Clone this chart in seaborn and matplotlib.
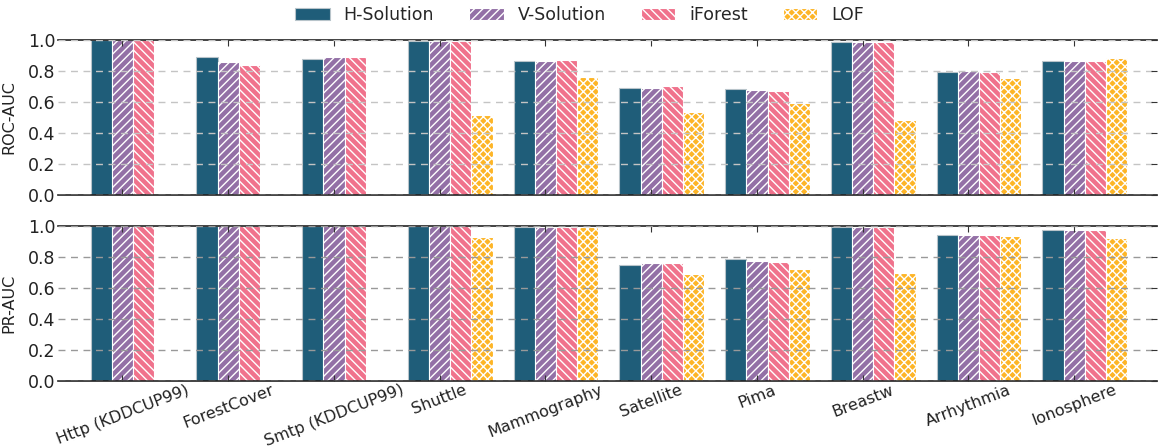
import numpy as np
import pandas as pd
import matplotlib
matplotlib.use("Agg")
import matplotlib.pyplot as plt
import seaborn as sns
from matplotlib.patches import Patch

# data
datasets = ['Http (KDDCUP99)', 'ForestCover', 'Smtp (KDDCUP99)', 'Shuttle', 'Mammography',
            'Satellite', 'Pima', 'Breastw', 'Arrhythmia', 'Ionosphere']
methods = ['H-Solution', 'V-Solution', 'iForest', 'LOF']

roc_h = [1.0, 0.890, 0.880, 0.991, 0.867, 0.692, 0.684, 0.987, 0.791, 0.862]
roc_v = [1.0, 0.860, 0.888, 0.991, 0.867, 0.692, 0.680, 0.987, 0.798, 0.867]
roc_if = [1.0, 0.839, 0.892, 0.991, 0.869, 0.705, 0.671, 0.987, 0.791, 0.867]
roc_lof = [np.nan, np.nan, np.nan, 0.518, 0.763, 0.538, 0.594, 0.486, 0.755, 0.886]

pr_h = [1.0, 1.0, 1.0, 1.0, 0.991, 0.749, 0.790, 0.991, 0.944, 0.974]
pr_v = [1.0, 1.0, 1.0, 1.0, 0.991, 0.758, 0.777, 0.991, 0.944, 0.974]
pr_if = [1.0, 1.0, 1.0, 1.0, 0.991, 0.764, 0.766, 0.991, 0.942, 0.974]
pr_lof = [np.nan, np.nan, np.nan, 0.931, 0.991, 0.691, 0.723, 0.695, 0.938, 0.925]

colors = ['#1f5d79', '#9370a6', '#f0728c', '#fdb527']
hatches = ['', '////', '\\\\\\\\', 'xxxx']


def to_long(series):
    rows = []
    for m, vals in zip(methods, series):
        for d, v in zip(datasets, vals):
            rows.append({'dataset': d, 'method': m, 'score': v})
    return pd.DataFrame(rows)


roc_df = to_long([roc_h, roc_v, roc_if, roc_lof])
pr_df = to_long([pr_h, pr_v, pr_if, pr_lof])

sns.set_style("white")
plt.rcParams['font.family'] = ['DejaVu Sans']
plt.rcParams['hatch.linewidth'] = 1.0

fig, axes = plt.subplots(2, 1, figsize=(11.59, 4.47), dpi=100, sharex=True)
fig.subplots_adjust(left=0.05, right=0.998, top=0.9105, bottom=0.1477, hspace=0.2)

panels = [(axes[0], roc_df, 'ROC-AUC', '#c4c4c4'), (axes[1], pr_df, 'PR-AUC', '#999999')]
for ax, df, label, gcol in panels:
    sns.barplot(data=df, x='dataset', y='score', hue='method', order=datasets,
                hue_order=methods, palette=colors, saturation=1, width=0.8, ax=ax, legend=False)
    for i, cont in enumerate(ax.containers):
        for bar in cont:
            bar.set_hatch(hatches[i])
            bar.set_edgecolor('#b8c4ca' if i == 0 else 'white')
            bar.set_linewidth(0.8)
    ax.set_ylim(0, 1.0)
    ax.set_xlim(-0.71, 9.68)
    ax.set_yticks([0.0, 0.2, 0.4, 0.6, 0.8, 1.0])
    ax.set_yticklabels(['0.0', '0.2', '0.4', '0.6', '0.8', '1.0'], fontsize=12.5, color='#222222')
    ax.set_ylabel(label, fontsize=11.5, color='#222222', labelpad=8)
    ax.set_xlabel('')
    ax.yaxis.grid(True, linestyle=(0, (5, 4)), color=gcol, linewidth=1.0)
    ax.xaxis.grid(False)
    ax.set_axisbelow(False)
    for side in ['left', 'right']:
        ax.spines[side].set_visible(False)
    for side in ['top', 'bottom']:
        ax.spines[side].set_color('#222222')
        ax.spines[side].set_linewidth(1.2)
    ax.tick_params(axis='y', left=False, right=True, direction='in', length=4, color='#333333', pad=2)
    ax.tick_params(axis='x', top=True, bottom=True, direction='in', length=4, color='#333333', pad=1)

axes[1].set_xticks(np.arange(len(datasets)) - 0.1)
axes[1].set_xticklabels(datasets, rotation=21, ha='center', fontsize=11.5, color='#222222')

handles = [Patch(facecolor=c, hatch=h, edgecolor='white' if h else '#b8c4ca', linewidth=0.8)
           for c, h in zip(colors, hatches)]
fig.legend(handles, methods, loc='center', bbox_to_anchor=(0.5, 0.966), ncol=4,
           frameon=False, fontsize=12.5, handlelength=2.0, columnspacing=2.0, handletextpad=0.8)

plt.savefig('out.png', dpi=100)
